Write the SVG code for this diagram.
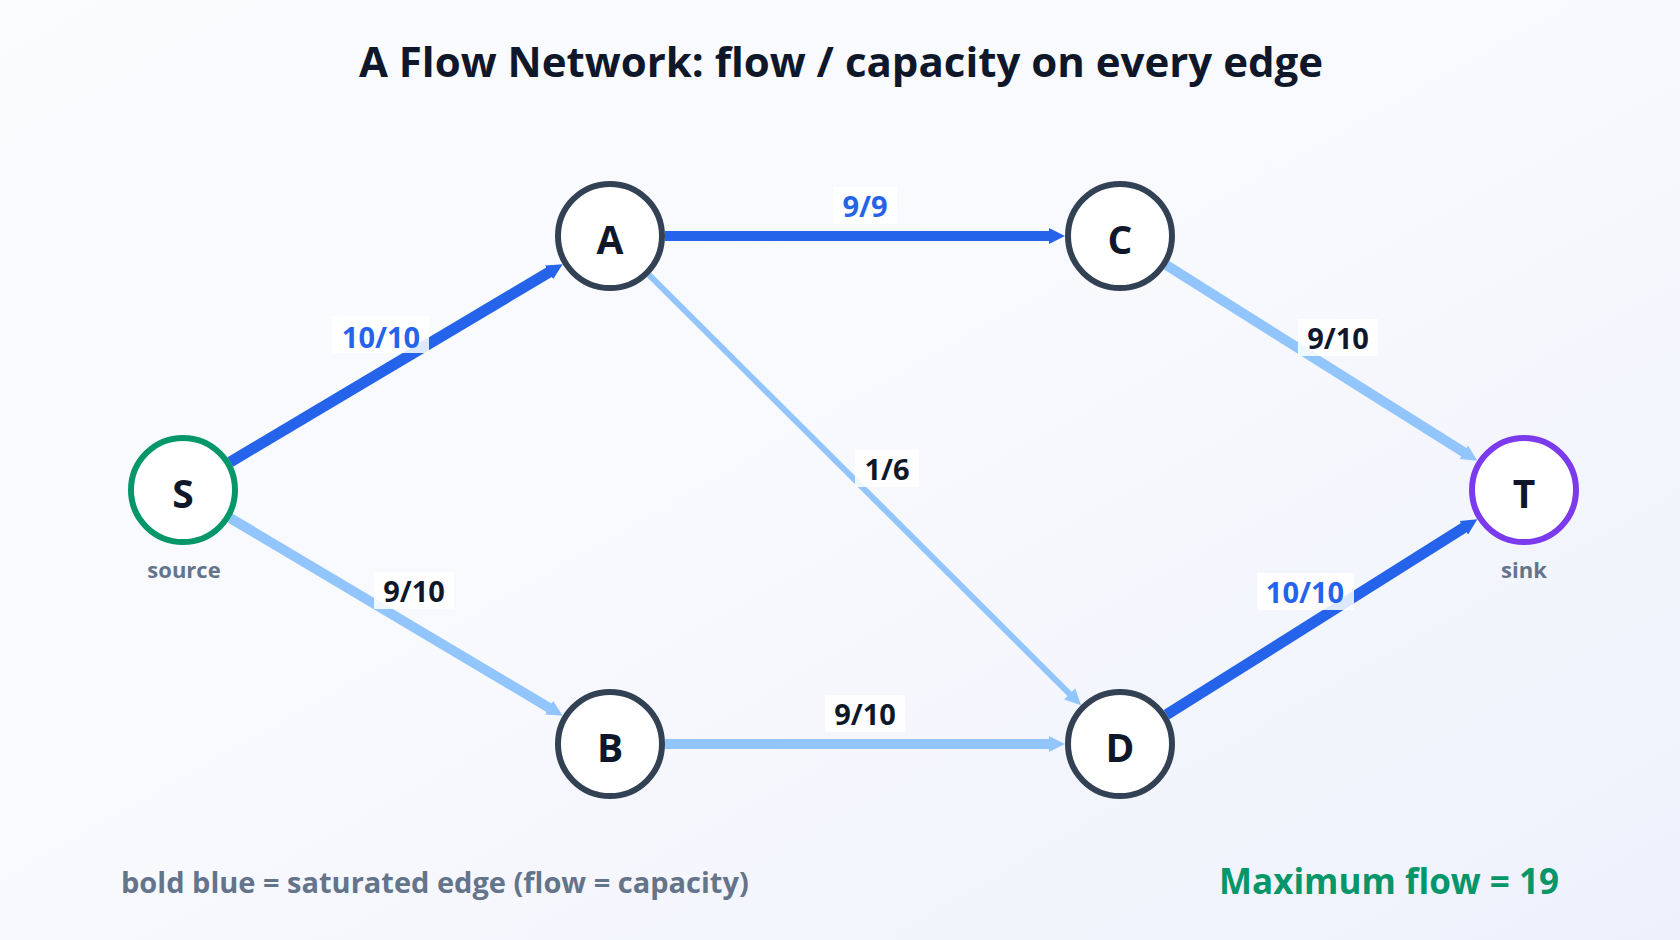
<svg xmlns="http://www.w3.org/2000/svg" width="1680" height="940" viewBox="0 0 1680 940">
<defs>
<linearGradient id="bg" x1="0" y1="0" x2="1" y2="1">
<stop offset="0" stop-color="#fbfcfe"/>
<stop offset="0.5" stop-color="#f8f9fd"/>
<stop offset="1" stop-color="#eef1fc"/>
</linearGradient>
<marker id="arrSat" markerUnits="userSpaceOnUse" viewBox="0 0 16 16" refX="2" refY="8" markerWidth="16" markerHeight="16" orient="auto">
<path d="M0,0 L16,8 L0,16 z" fill="#2563eb"/>
</marker>
<marker id="arrLight" markerUnits="userSpaceOnUse" viewBox="0 0 16 16" refX="2" refY="8" markerWidth="16" markerHeight="16" orient="auto">
<path d="M0,0 L16,8 L0,16 z" fill="#93c5fd"/>
</marker>
<style>
text { font-family: "Open Sans", "Noto Sans", "Liberation Sans", sans-serif; font-weight: 700; }
.title { font-size: 42px; fill: #0f172a; }
.sat { stroke: #2563eb; fill: none; stroke-linecap: butt; marker-end: url(#arrSat); }
.light { stroke: #93c5fd; fill: none; stroke-linecap: butt; marker-end: url(#arrLight); }
.lbg { fill: #ffffff; fill-opacity: 0.85; }
.lbl { font-size: 29px; text-anchor: middle; dominant-baseline: central; }
.lsat { fill: #2563eb; }
.lnorm { fill: #0f172a; }
.node { fill: #ffffff; stroke: #334155; stroke-width: 6; }
.nlet { font-size: 39px; fill: #0f172a; text-anchor: middle; dominant-baseline: central; }
.sub { font-size: 22px; fill: #64748b; text-anchor: middle; }
</style>
</defs>
<rect x="0" y="0" width="1680" height="940" fill="url(#bg)"/>
<text class="title" x="841" y="77" text-anchor="middle">A Flow Network: flow / capacity on every edge</text>

<g id="connectors">
<line class="sat" x1="230.3" y1="461.9" x2="550.7" y2="271.3" stroke-width="11"/>
<line class="light" x1="230.3" y1="518.1" x2="550.7" y2="708.7" stroke-width="10"/>
<line class="sat" x1="665" y1="236" x2="1051" y2="236" stroke-width="10"/>
<line class="light" x1="649" y1="274.8" x2="1071.1" y2="695.3" stroke-width="6"/>
<line class="light" x1="665" y1="744" x2="1051" y2="744" stroke-width="10"/>
<line class="light" x1="1166.6" y1="265.3" x2="1465.5" y2="453.3" stroke-width="10"/>
<line class="sat" x1="1166.6" y1="714.7" x2="1465.5" y2="526.7" stroke-width="11"/>
</g>

<g id="edge-labels">
<rect class="lbg" x="332" y="316" width="97" height="37"/>
<text class="lbl lsat" x="381" y="336">10/10</text>
<rect class="lbg" x="374" y="572" width="80" height="37"/>
<text class="lbl lnorm" x="414" y="590">9/10</text>
<rect class="lbg" x="833" y="187" width="64" height="37"/>
<text class="lbl lsat" x="865" y="205">9/9</text>
<rect class="lbg" x="855" y="450" width="64" height="37"/>
<text class="lbl lnorm" x="887" y="468">1/6</text>
<rect class="lbg" x="825" y="695" width="80" height="37"/>
<text class="lbl lnorm" x="865" y="713">9/10</text>
<rect class="lbg" x="1298" y="319" width="80" height="37"/>
<text class="lbl lnorm" x="1338" y="337">9/10</text>
<rect class="lbg" x="1257" y="573" width="97" height="37"/>
<text class="lbl lsat" x="1305" y="591">10/10</text>
</g>

<g id="node-S">
<circle cx="183" cy="490" r="52" class="node" style="stroke:#059669"/>
<text class="nlet" x="183" y="492">S</text>
<text class="sub" x="184" y="578">source</text>
</g>
<g id="node-A">
<circle cx="610" cy="236" r="52" class="node"/>
<text class="nlet" x="610" y="238">A</text>
</g>
<g id="node-B">
<circle cx="610" cy="744" r="52" class="node"/>
<text class="nlet" x="610" y="746">B</text>
</g>
<g id="node-C">
<circle cx="1120" cy="236" r="52" class="node"/>
<text class="nlet" x="1120" y="238">C</text>
</g>
<g id="node-D">
<circle cx="1120" cy="744" r="52" class="node"/>
<text class="nlet" x="1120" y="746">D</text>
</g>
<g id="node-T">
<circle cx="1524" cy="490" r="52" class="node" style="stroke:#7c3aed"/>
<text class="nlet" x="1524" y="492">T</text>
<text class="sub" x="1524" y="578">sink</text>
</g>

<text x="121" y="893" font-size="29" fill="#64748b">bold blue = saturated edge (flow = capacity)</text>
<text x="1559" y="894" font-size="35" fill="#059669" text-anchor="end">Maximum flow = 19</text>
</svg>
